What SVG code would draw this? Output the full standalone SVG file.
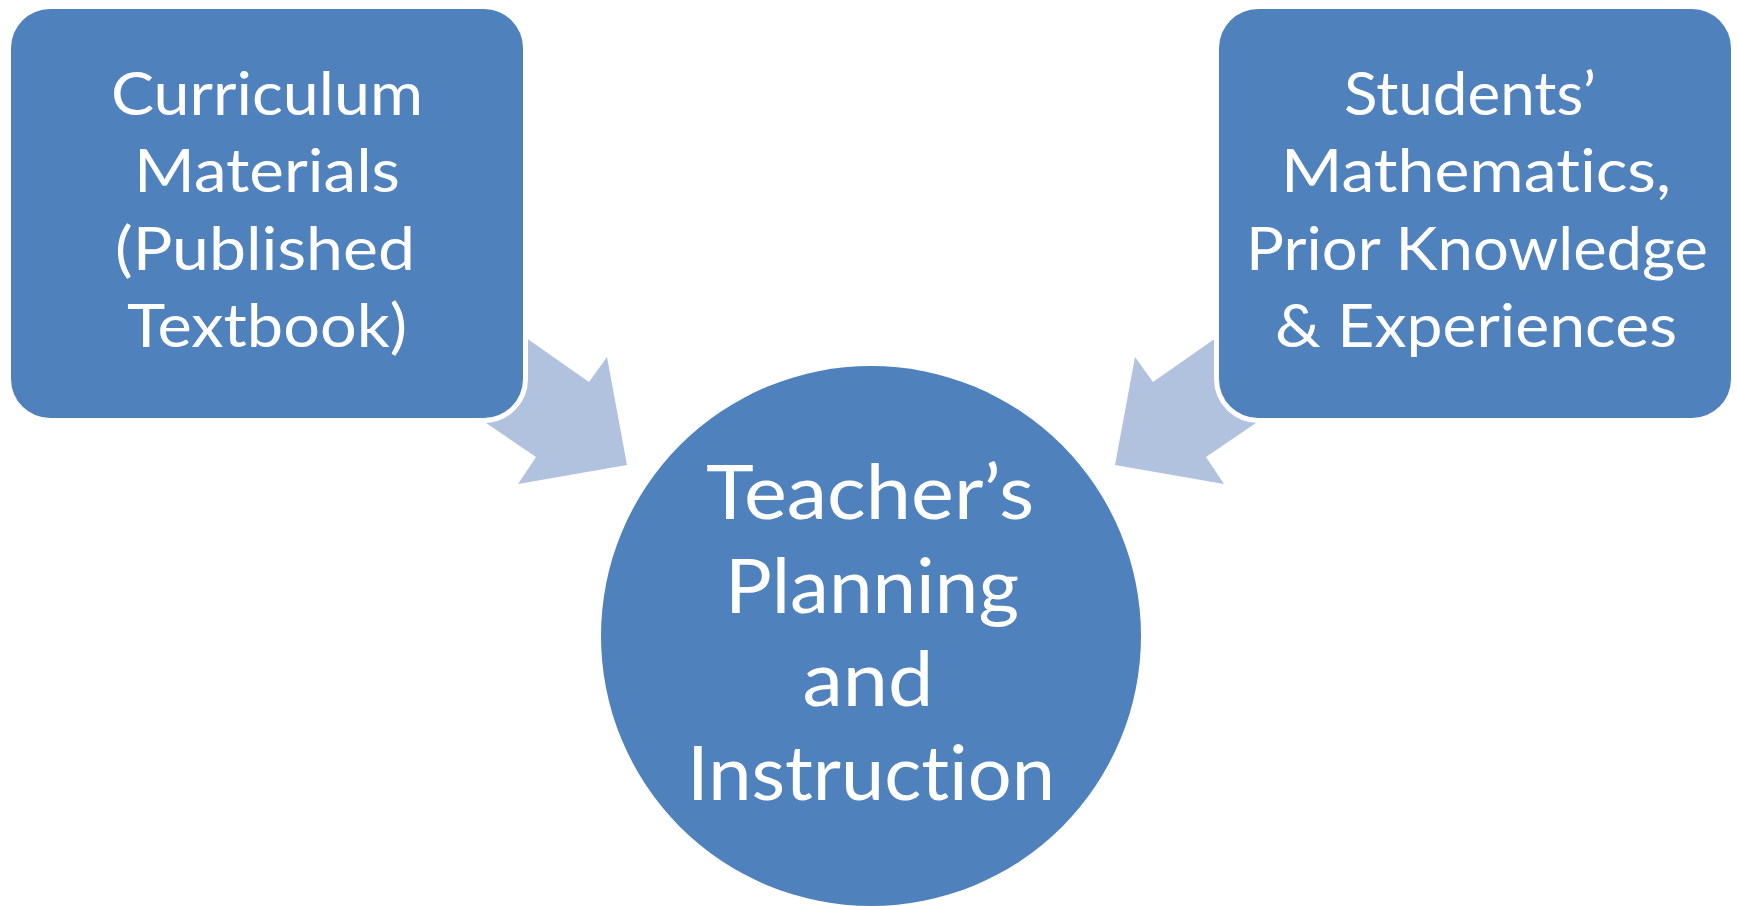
<svg xmlns="http://www.w3.org/2000/svg" width="1737" height="906" viewBox="0 0 1737 906">
<style>
.node{fill:#4F81BD;stroke:#FFFFFF;stroke-width:10;paint-order:stroke}
.arrow{fill:#B1C2DE}
.t{font-family:Lato,"Open Sans","Liberation Sans",sans-serif;fill:#FFFFFF;text-anchor:middle;font-variant-ligatures:none;font-feature-settings:"liga" 0,"clig" 0,"dlig" 0}
.s{font-size:60px}
.b{font-size:75px}
</style>
<rect width="1737" height="906" fill="#FFFFFF"/>
<g id="connectors">
<polygon class="arrow" points="479,305 589,382 607,357 627,465 518,484 536,457 436,389"/>
<polygon class="arrow" points="1263,305 1153,382 1135,357 1115,465 1224,484 1206,457 1306,389"/>
</g>
<g id="curriculum">
<rect class="node" x="11" y="9" width="512" height="409" rx="39" ry="39"/>
<text class="t s" x="267" y="115" textLength="312" lengthAdjust="spacingAndGlyphs">Curriculum</text>
<text class="t s" x="267" y="192" textLength="266" lengthAdjust="spacingAndGlyphs">Materials</text>
<text class="t s" x="265" y="270" textLength="300" lengthAdjust="spacingAndGlyphs">(Published</text>
<text class="t s" x="267" y="347" textLength="280" lengthAdjust="spacingAndGlyphs">Textbook)</text>
</g>
<g id="students">
<rect class="node" x="1219" y="9" width="512" height="409" rx="39" ry="39"/>
<text class="t s" x="1470" y="115" textLength="252" lengthAdjust="spacingAndGlyphs">Students’</text>
<text class="t s" x="1476" y="192" textLength="390" lengthAdjust="spacingAndGlyphs">Mathematics,</text>
<text class="t s" x="1477" y="270" textLength="462" lengthAdjust="spacingAndGlyphs">Prior Knowledge</text>
<text class="t s" x="1476" y="347" textLength="402" lengthAdjust="spacingAndGlyphs">&amp; Experiences</text>
</g>
<g id="teacher">
<circle cx="871" cy="636" r="270" fill="#4F81BD"/>
<text class="t b" x="870" y="519" textLength="328" lengthAdjust="spacingAndGlyphs">Teacher’s</text>
<text class="t b" x="872" y="613" textLength="294" lengthAdjust="spacingAndGlyphs">Planning</text>
<text class="t b" x="868" y="706" textLength="131" lengthAdjust="spacingAndGlyphs">and</text>
<text class="t b" x="871" y="800" textLength="368" lengthAdjust="spacingAndGlyphs">Instruction</text>
</g>
</svg>
